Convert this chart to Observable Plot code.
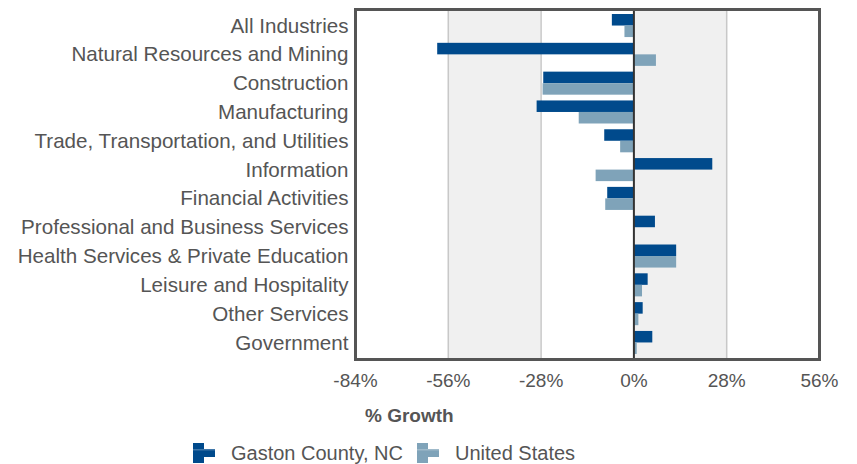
<!DOCTYPE html>
<html>
<head>
<meta charset="utf-8">
<script src="https://cdn.jsdelivr.net/npm/d3@7"></script>
<script src="https://cdn.jsdelivr.net/npm/@observablehq/plot@0.6"></script>
<style>
  html, body { margin: 0; padding: 0; background: #fff; }
  #wrap { position: relative; width: 857px; height: 464px; font-family: "Liberation Sans", Arial, sans-serif; color: #555; }
  #xlabel { position: absolute; left: 365px; top: 405px; font-size: 19px; font-weight: bold; color: #555; }
  #legend { position: absolute; left: 193px; top: 443px; height: 20px; font-size: 20px; color: #555; }
  #legend .item { position: absolute; top: 0; display: flex; align-items: center; white-space: nowrap; height: 20px; }
  #legend svg { margin-right: 16px; flex: none; }
</style>
</head>
<body>
<div id="wrap">
  <div id="chart"></div>
  <div id="xlabel">% Growth</div>
  <div id="legend"></div>
</div>
<script>
const categories = [
  "All Industries",
  "Natural Resources and Mining",
  "Construction",
  "Manufacturing",
  "Trade, Transportation, and Utilities",
  "Information",
  "Financial Activities",
  "Professional and Business Services",
  "Health Services & Private Education",
  "Leisure and Hospitality",
  "Other Services",
  "Government"
];
const gaston = [-6.5, -59.2, -27.2, -29.2, -8.8, 23.8, -7.9, 6.5, 12.9, 4.3, 2.8, 5.7];
const unitedStates = [-2.7, 6.8, -27.4, -16.5, -4.0, -11.4, -8.5, 0, 12.9, 2.6, 1.5, 1.0];
const seriesNames = ["Gaston County, NC", "United States"];
const seriesColors = ["#004a8c", "#7fa3b9"];
const xTicks = [-84, -56, -28, 0, 28, 56];
const shadedBands = [[-56, -28], [0, 28]];
const gridLines = [-56, -28, 28];

const rows = categories.map((c, i) => ({category: c, gaston: gaston[i], us: unitedStates[i]}));
const bands = shadedBands.map(([a, b]) => ({x1: a, x2: b}));

const H = 395, MT = 9, MB = 36;
const padIn = 0.2, padOut = 0.174;
const step = (H - MT - MB) / (categories.length - padIn + 2 * padOut);
const half = step * (1 - padIn) / 2;

const chart = Plot.plot({
  width: 857,
  height: H,
  marginTop: MT,
  marginBottom: MB,
  marginLeft: 355,
  marginRight: 38,
  style: {fontFamily: "Liberation Sans, Arial, sans-serif", color: "#555", background: "#fff"},
  x: {domain: [-84, 56], ticks: xTicks, tickFormat: d => d + "%", tickSize: 0, tickPadding: 14, label: null},
  y: {type: "band", domain: categories, paddingInner: padIn, paddingOuter: padOut, round: false, tickSize: 0, tickPadding: 7, label: null},
  marks: [
    Plot.rectX(bands, {x1: "x1", x2: "x2", fill: "#f0f0f0"}),
    Plot.ruleX(gridLines, {stroke: "#c8c8c8", strokeWidth: 1.5}),
    Plot.barX(rows, {x: "gaston", y: "category", fill: seriesColors[0], insetBottom: half}),
    Plot.barX(rows, {x: "us", y: "category", fill: seriesColors[1], insetTop: half}),
    Plot.ruleX([0], {stroke: "#333", strokeWidth: 2}),
    Plot.frame({stroke: "#555", strokeWidth: 3})
  ]
});
chart.querySelectorAll('g[aria-label="y-axis tick label"] text').forEach(t => t.style.fontSize = "20.6px");
chart.querySelectorAll('g[aria-label="x-axis tick label"] text').forEach(t => t.style.fontSize = "19px");
document.getElementById("chart").appendChild(chart);

const legend = document.getElementById("legend");
const legendX = [0, 224];
seriesNames.forEach((name, i) => {
  const item = document.createElement("div");
  item.className = "item";
  item.style.left = legendX[i] + "px";
  const c = seriesColors[i];
  item.innerHTML = `<svg width="22" height="20" viewBox="0 0 22 20">
    <rect x="0" y="0" width="11" height="20" fill="${c}"/>
    <rect x="11" y="6" width="11" height="8" fill="${c}"/>
    <rect x="0" y="6" width="22" height="1.5" fill="#fff" opacity="0.25"/>
  </svg><span>${name}</span>`;
  legend.appendChild(item);
});
</script>
</body>
</html>
